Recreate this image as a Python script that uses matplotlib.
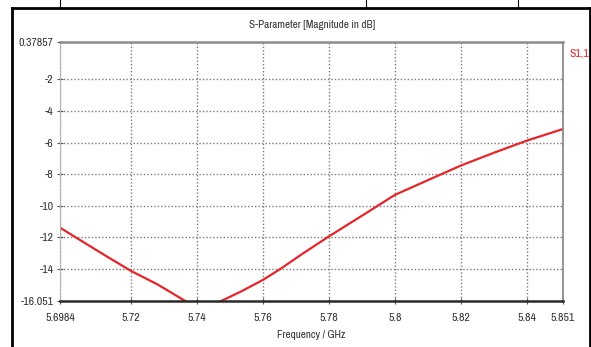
import matplotlib
matplotlib.use("Agg")
import matplotlib.pyplot as plt
from matplotlib.lines import Line2D

# S1,1 magnitude (dB) versus frequency (GHz)
freq_ghz = [5.6984, 5.705, 5.712, 5.720, 5.728, 5.734, 5.738, 5.741, 5.744,
            5.7473, 5.7533, 5.760, 5.7656, 5.772, 5.780, 5.792, 5.800,
            5.8147, 5.820, 5.830, 5.840, 5.851]
s11_db = [-11.40, -12.25, -13.15, -14.15, -15.00, -15.75, -16.25, -16.45, -16.35,
          -16.05, -15.45, -14.71, -13.97, -13.05, -11.95, -10.38, -9.32,
          -7.95, -7.46, -6.65, -5.88, -5.14]

x_ticks = [5.6984, 5.72, 5.74, 5.76, 5.78, 5.8, 5.82, 5.84, 5.851]
x_tick_labels = ["5.6984", "5.72", "5.74", "5.76", "5.78", "5.8", "5.82", "5.84", "5.851"]
y_ticks = [0.37857, -2, -4, -6, -8, -10, -12, -14, -16.051]
y_tick_labels = ["0.37857", "-2", "-4", "-6", "-8", "-10", "-12", "-14", "-16.051"]

title = "S-Parameter [Magnitude in dB]"
x_label = "Frequency / GHz"
series_name = "S1,1"

FONT = ["Archivo Narrow", "Asap Condensed", "DejaVu Sans"]
plt.rcParams["font.family"] = FONT

W, H = 591, 347
fig = plt.figure(figsize=(W / 100, H / 100), dpi=100)
fig.patch.set_facecolor("white")

ax = fig.add_axes([60 / W, 1 - 301 / H, (563 - 60) / W, (301 - 42) / H])
ax.plot(freq_ghz, s11_db, color="#e4262b", lw=1.6, solid_capstyle="butt", zorder=3)

ax.set_xlim(x_ticks[0], x_ticks[-1])
ax.set_ylim(y_ticks[-1], y_ticks[0])
ax.set_xticks(x_ticks)
ax.set_xticklabels(x_tick_labels)
ax.set_yticks(y_ticks)
ax.set_yticklabels(y_tick_labels)
ax.tick_params(axis="both", direction="inout", length=5, width=0.8, color="#555555",
               labelsize=8.5, labelcolor="#333333", pad=2)
ax.tick_params(axis="x", pad=6)

ax.grid(True, color="#7a7a7a", linestyle=(0, (1, 1.5)), linewidth=1.0)
ax.set_axisbelow(True)

for side, sp in ax.spines.items():
    sp.set_zorder(4)
ax.spines["top"].set_color("#8c8c8c")
ax.spines["top"].set_linewidth(1.8)
ax.spines["bottom"].set_color("#2a2a2a")
ax.spines["bottom"].set_linewidth(1.8)
ax.spines["left"].set_color("#b5b5b5")
ax.spines["left"].set_linewidth(0.8)
ax.spines["right"].set_color("#8c8c8c")
ax.spines["right"].set_linewidth(1.3)

fig.text(312 / W, 1 - 25 / H, title, ha="center", va="center", fontsize=8, color="#333333")
fig.text(311 / W, 1 - 335 / H, x_label, ha="center", va="center", fontsize=8, color="#333333")
fig.text(570 / W, 1 - 53 / H, series_name, ha="left", va="center", fontsize=8.5,
         color="#e4262b")

# surrounding frame
frame_kw = dict(color="black", lw=2.0, transform=fig.transFigure)
fig.add_artist(Line2D([12 / W, 589.5 / W], [1 - 7.5 / H, 1 - 7.5 / H], **frame_kw))
fig.add_artist(Line2D([12 / W, 12 / W], [0, 1 - 7.5 / H], **frame_kw))
fig.add_artist(Line2D([589.5 / W, 589.5 / W], [0, 1 - 7.5 / H], **frame_kw))
for xp in (60, 366, 518):
    fig.add_artist(Line2D([xp / W, xp / W], [1 - 7.5 / H, 1], color="black", lw=0.8,
                          transform=fig.transFigure))

fig.savefig("out.png", dpi=100, facecolor="white")
